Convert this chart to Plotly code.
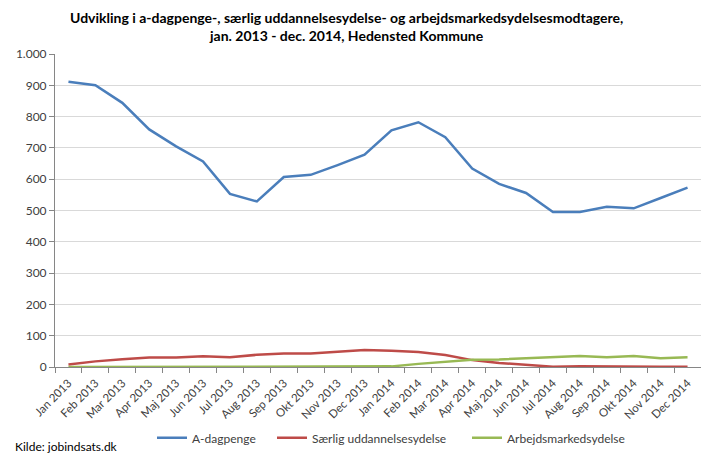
import plotly.graph_objects as go

months = ["Jan 2013", "Feb 2013", "Mar 2013", "Apr 2013", "Maj 2013", "Jun 2013",
          "Jul 2013", "Aug 2013", "Sep 2013", "Okt 2013", "Nov 2013", "Dec 2013",
          "Jan 2014", "Feb 2014", "Mar 2014", "Apr 2014", "Maj 2014", "Jun 2014",
          "Jul 2014", "Aug 2014", "Sep 2014", "Okt 2014", "Nov 2014", "Dec 2014"]

a_dagpenge = [911, 900, 844, 759, 705, 657, 553, 529, 607, 614, 645, 678,
              756, 782, 734, 634, 585, 556, 495, 495, 512, 507, 540, 573]
saerlig = [8, 18, 25, 30, 30, 34, 31, 39, 43, 43, 49, 54,
           52, 48, 38, 22, 13, 8, 1, 2, 1, 1, 1, 1]
arbejdsmarked = [0, 0, 0, 0, 0, 0, 0, 0, 0, 0, 0, 0,
                 2, 10, 17, 23, 24, 28, 31, 35, 31, 35, 28, 31]

y_ticks = [0, 100, 200, 300, 400, 500, 600, 700, 800, 900, 1000]
y_labels = ["0", "100", "200", "300", "400", "500", "600", "700", "800", "900", "1.000"]

FONT = "Lato"
TXT = "#404040"
fig = go.Figure()
fig.add_trace(go.Scatter(x=months, y=a_dagpenge, name="A-dagpenge", mode="lines",
                         line=dict(color="#4A7EBB", width=2.5), legend="legend"))
fig.add_trace(go.Scatter(x=months, y=saerlig, name="Særlig uddannelsesydelse", mode="lines",
                         line=dict(color="#BE4B48", width=2.5), legend="legend2"))
fig.add_trace(go.Scatter(x=months, y=arbejdsmarked, name="Arbejdsmarkedsydelse", mode="lines",
                         line=dict(color="#98B954", width=2.5), legend="legend3"))

leg_common = dict(orientation="h", xanchor="left", y=-0.18, yanchor="top",
                  font=dict(family=FONT, size=12, color=TXT), itemwidth=30,
                  bgcolor="rgba(0,0,0,0)")

fig.update_layout(
    width=701, height=453,
    margin=dict(l=55, r=0, t=54, b=86),
    paper_bgcolor="white", plot_bgcolor="white",
    font=dict(family=FONT, size=12, color=TXT),
    showlegend=True,
    legend=dict(x=(152 - 55) / 646, **leg_common),
    legend2=dict(x=(272 - 55) / 646, **leg_common),
    legend3=dict(x=(467 - 55) / 646, **leg_common),
)
fig.update_xaxes(type="category", range=[-0.5, 23.5], tickangle=-45, automargin=False,
                 showline=True, linecolor="#868686", linewidth=1,
                 ticks="outside", tickson="boundaries", ticklen=5, tickcolor="#868686",
                 ticklabelstandoff=4,
                 showgrid=False, tickfont=dict(family=FONT, size=11.5, color=TXT))
fig.update_yaxes(range=[0, 1000], tickvals=y_ticks, ticktext=y_labels, automargin=False,
                 showline=True, linecolor="#868686", linewidth=1,
                 ticks="outside", ticklen=5, tickcolor="#868686",
                 showgrid=True, gridcolor="#D9D9D9", gridwidth=1, zeroline=False,
                 tickfont=dict(family=FONT, size=12, color=TXT))

fig.add_annotation(text="<b>Udvikling i a-dagpenge-, særlig uddannelsesydelse- og arbejdsmarkedsydelsesmodtagere,<br>jan. 2013 - dec. 2014, Hedensted Kommune</b>",
                   xref="paper", yref="paper", x=(346 - 55) / 646, y=(366.7 - 26) / 313,
                   xanchor="center", yanchor="middle", showarrow=False,
                   font=dict(family=FONT, size=14, color="#000000"))

fig.add_annotation(text="Kilde: jobindsats.dk", xref="paper", yref="paper",
                   x=(13 - 55) / 646, y=-(446 - 366.7) / 313, xanchor="left", yanchor="middle",
                   showarrow=False, font=dict(family=FONT, size=12, color="#000000"))

fig.write_html("out.html", config={"displayModeBar": False},
               post_script="document.body.style.margin='0px';")
